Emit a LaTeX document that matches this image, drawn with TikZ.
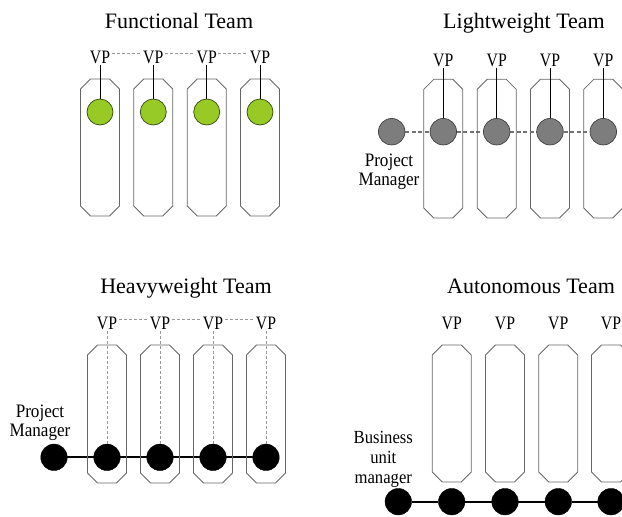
\documentclass[tikz,border=0pt]{standalone}
\usepackage{fontspec}
\setmainfont{Liberation Serif}
\newfontfamily\vpfont[FakeStretch=0.83]{Liberation Serif}
\newfontfamily\pmfont[FakeStretch=0.9]{Liberation Serif}
\usetikzlibrary{backgrounds}
\definecolor{teamgreen}{RGB}{152,202,38}
\definecolor{dotgray}{RGB}{125,125,125}
\newcommand\chbox[3]{\draw[boxline] (#1-19.5,#2+10) -- (#1-9.5,#2) -- (#1+9.5,#2) -- (#1+19.5,#2+10) -- (#1+19.5,#3-10) -- (#1+9.5,#3) -- (#1-9.5,#3) -- (#1-19.5,#3-10) -- cycle;}
\tikzset{
  ttl/.style={font=\fontsize{22}{26}\selectfont, anchor=base, inner sep=0pt},
  vp/.style={font=\vpfont\fontsize{19}{22}\selectfont, anchor=base, inner sep=1.5pt},
  lbl/.style={font=\pmfont\fontsize{19}{19.5}\selectfont, align=center, anchor=base, inner sep=0pt},
  boxline/.style={draw=black!60, line width=0.8pt},
  gdot/.style={circle, minimum size=26pt, inner sep=0pt, fill=teamgreen, draw=black!65!teamgreen, line width=0.7pt},
  sdot/.style={circle, minimum size=26.5pt, inner sep=0pt, fill=dotgray, draw=black!75, line width=0.7pt},
  bdot/.style={circle, minimum size=26.5pt, inner sep=0pt, fill=black, draw=black},
  vpline/.style={draw=black, line width=0.8pt},
  vpdash/.style={draw=black!40, line width=0.6pt, dash pattern=on 3pt off 2pt},
  pmdash/.style={draw=black!55, line width=2pt, dash pattern=on 4pt off 2.5pt},
  pmline/.style={draw=black, line width=2pt},
}
\begin{document}
\begin{tikzpicture}[x=1pt, y=-1pt]
\useasboundingbox (0,0) rectangle (622,517);
\clip (0,0) rectangle (622,517);

% ---------------- Functional Team ----------------
\node[ttl] (tF) at (179,28) {Functional Team};
\foreach \i/\x in {1/100, 2/153.3, 3/206.7, 4/260} {
  \chbox{\x}{79}{216}
  \node[vp] (vF\i) at (\x,63.3) {VP};
  \node[gdot] (gF\i) at (\x,112) {};
  \draw[vpline] (vF\i.south) -- (gF\i.north);
}
\foreach \a/\b in {1/2, 2/3, 3/4}
  \draw[vpdash] ([yshift=-4pt]vF\a.north east) -- ([yshift=-4pt]vF\b.north west);

% ---------------- Lightweight Team ----------------
\node[ttl] (tL) at (524,28) {Lightweight Team};
\foreach \i/\x in {1/443.3, 2/496.7, 3/550, 4/603.3} {
  \chbox{\x}{79.3}{218}
  \node[vp] (vL\i) at (\x,66) {VP};
  \node[sdot] (gL\i) at (\x,131.7) {};
  \draw[vpline] (vL\i.south) -- (gL\i.north);
}
\node[sdot] (pmL) at (391.7,131.7) {};
\node[lbl] (pmLt) at (389,185.7) {Project\\Manager};
\begin{scope}[on background layer]
  \draw[pmdash] (pmL) -- (gL1) -- (gL2) -- (gL3) -- (gL4);
\end{scope}

% ---------------- Heavyweight Team ----------------
\node[ttl] (tH) at (186,293.3) {Heavyweight Team};
\foreach \i/\x in {1/107, 2/160, 3/213, 4/266} {
  \chbox{\x}{345}{483}
  \node[vp] (vH\i) at (\x,329.3) {VP};
  \node[bdot] (gH\i) at (\x,457.3) {};
  \draw[vpdash] (vH\i.south) -- (gH\i.north);
}
\foreach \a/\b in {1/2, 2/3, 3/4}
  \draw[vpdash] ([yshift=-4pt]vH\a.north east) -- ([yshift=-4pt]vH\b.north west);
\node[bdot] (pmH) at (54,457.3) {};
\node[lbl] (pmHt) at (40,436.7) {Project\\Manager};
\begin{scope}[on background layer]
  \draw[pmline] (pmH) -- (gH1) -- (gH2) -- (gH3) -- (gH4);
\end{scope}

% ---------------- Autonomous Team ----------------
\node[ttl] (tA) at (531,293.3) {Autonomous Team};
\foreach \i/\x in {1/451.7, 2/505, 3/558.3, 4/611} {
  \chbox{\x}{345}{482}
  \node[vp] (vA\i) at (\x,329.3) {VP};
  \node[bdot] (gA\i) at (\x,501.7) {};
}
\node[bdot] (buA) at (398.3,501.7) {};
\node[lbl, font=\pmfont\fontsize{18.5}{20}\selectfont] (buAt) at (383.3,483.3) {Business\\unit\\manager};
\begin{scope}[on background layer]
  \draw[pmline] (buA) -- (gA1) -- (gA2) -- (gA3) -- (gA4);
\end{scope}
\end{tikzpicture}
\end{document}
